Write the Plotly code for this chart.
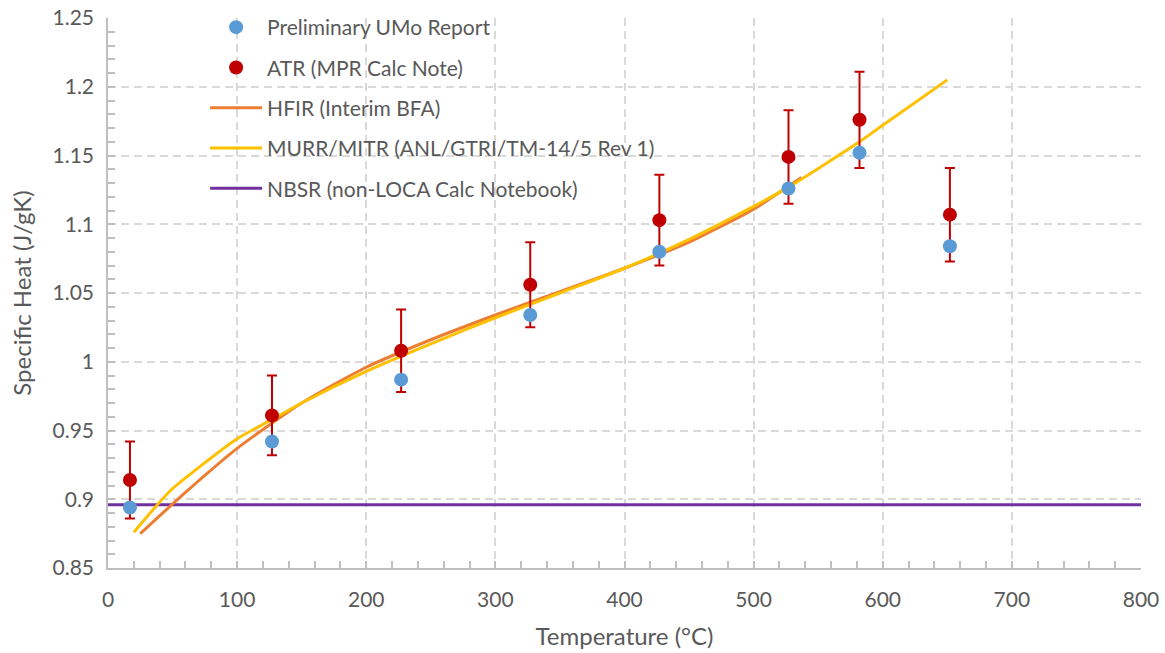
import plotly.graph_objects as go

# Measured specific heat data points
temp_pts = [17, 127, 227, 327, 427, 527, 582, 652]
umo_report = [0.894, 0.942, 0.987, 1.034, 1.080, 1.126, 1.152, 1.084]
atr_calc = [0.914, 0.961, 1.008, 1.056, 1.103, 1.149, 1.176, 1.107]
atr_err = [0.028, 0.029, 0.030, 0.031, 0.033, 0.034, 0.035, 0.034]

# HFIR correlation curve
hfir_t = [25, 60, 100, 150, 200, 250, 300, 350, 400, 450, 500, 537]
hfir_cp = [0.875, 0.905, 0.937, 0.970, 0.996, 1.016, 1.034, 1.051, 1.068, 1.087, 1.111, 1.134]

# MURR/MITR correlation curve
murr_t = [20, 48, 77, 100, 127, 150, 200, 250, 300, 350, 400, 450, 500, 527, 582, 600, 650]
murr_cp = [0.876, 0.906, 0.928, 0.944, 0.958, 0.970, 0.993, 1.013, 1.032, 1.050, 1.068, 1.089, 1.113, 1.127, 1.160, 1.172, 1.205]

# NBSR constant value
nbsr_t = [0, 800]
nbsr_cp = [0.896, 0.896]

TEXT = "#595959"
GRID = "#d9d9d9"
FONT = "Lato, Open Sans, sans-serif"

fig = go.Figure()

fig.add_trace(go.Scatter(
    x=nbsr_t, y=nbsr_cp, mode="lines", name="NBSR (non-LOCA Calc Notebook)",
    line=dict(color="#7030a0", width=3), legendgroup="e", legendrank=5))
fig.add_trace(go.Scatter(
    x=hfir_t, y=hfir_cp, mode="lines", name="HFIR (Interim BFA)",
    line=dict(color="#ed7d31", width=3, shape="spline", smoothing=0.6),
    legendgroup="c", legendrank=3))
fig.add_trace(go.Scatter(
    x=murr_t, y=murr_cp, mode="lines", name="MURR/MITR (ANL/GTRI/TM-14/5 Rev 1)",
    line=dict(color="#ffc000", width=3, shape="spline", smoothing=0.6),
    legendgroup="d", legendrank=4))
fig.add_trace(go.Scatter(
    x=temp_pts, y=atr_calc, mode="markers", name="ATR (MPR Calc Note)",
    marker=dict(color="#c00000", size=14),
    error_y=dict(type="data", array=atr_err, color="#c00000", thickness=2, width=5),
    legendgroup="b", legendrank=2))
fig.add_trace(go.Scatter(
    x=temp_pts, y=umo_report, mode="markers", name="Preliminary UMo Report",
    marker=dict(color="#5b9bd5", size=14), legendgroup="a", legendrank=1))

axis_common = dict(
    showgrid=True, gridcolor=GRID, gridwidth=2, griddash="8px,5px",
    showline=True, linecolor="#bfbfbf", linewidth=1.5,
    ticks="inside", ticklen=7, tickcolor="#bfbfbf", tickwidth=1.5,
    tickfont=dict(family=FONT, size=21, color=TEXT),
    zeroline=False, mirror=False, automargin=False,
)

fig.update_xaxes(
    range=[0, 800], dtick=100, tick0=0, ticklabelstandoff=12,
    minor=dict(dtick=20, ticks="inside", ticklen=7, tickcolor="#bfbfbf", showgrid=False),
    title=dict(text="Temperature (°C)", font=dict(family=FONT, size=24, color=TEXT), standoff=18),
    **axis_common)
fig.update_yaxes(
    range=[0.85, 1.25], dtick=0.05, tick0=0.85, ticklabelstandoff=8,
    minor=dict(dtick=0.01, ticks="inside", ticklen=7, tickcolor="#bfbfbf", showgrid=False),
    title=dict(text="Specific Heat (J/gK)", font=dict(family=FONT, size=24, color=TEXT), standoff=14),
    **axis_common)

fig.update_layout(
    width=1165, height=653,
    margin=dict(l=108, r=24, t=18, b=85, autoexpand=False),
    plot_bgcolor="white", paper_bgcolor="white",
    legend=dict(
        x=0.094, y=1.02, xanchor="left", yanchor="top",
        bgcolor="rgba(0,0,0,0)", tracegroupgap=10,
        font=dict(family=FONT, size=21, color=TEXT),
        itemwidth=52,
    ),
)

fig.write_html("out.html")
